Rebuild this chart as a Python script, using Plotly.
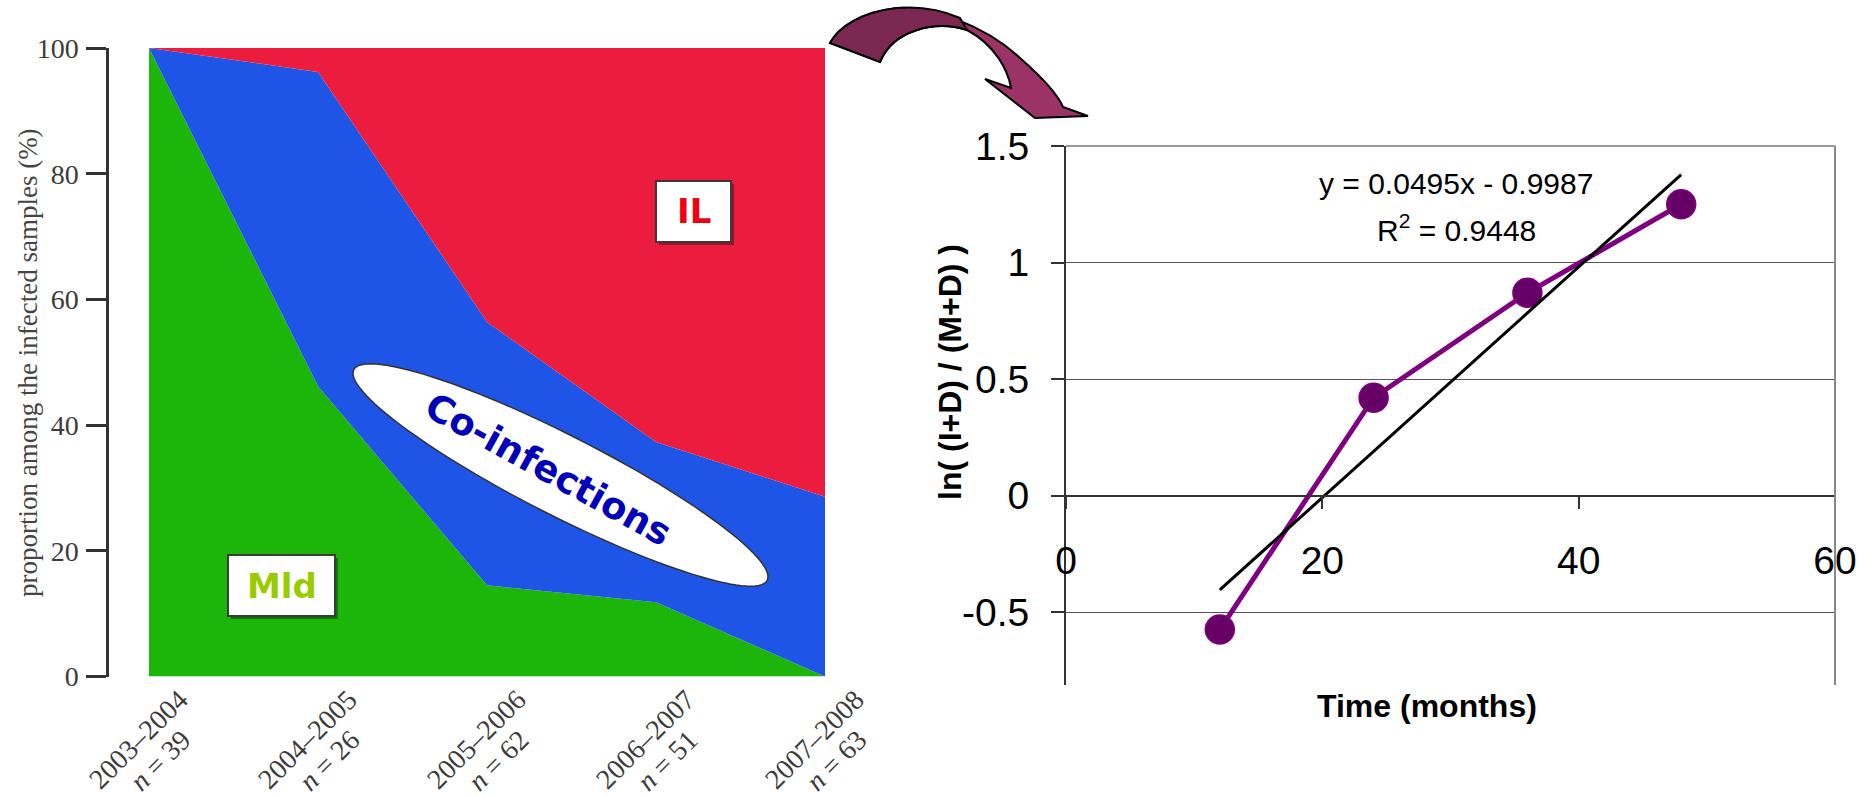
import numpy as np
import plotly.graph_objects as go

# ---------------- data ----------------
# Left panel: share of each infection status per sampling season (%)
seasons = ["2003–2004", "2004–2005", "2005–2006", "2006–2007", "2007–2008"]
sample_sizes = [39, 26, 62, 51, 63]
mld_pct = [100.0, 46.2, 14.5, 11.8, 0.0]
coinf_pct = [0.0, 50.0, 41.9, 25.5, 28.6]
il_pct = [0.0, 3.8, 43.5, 62.7, 71.4]

# Right panel: log ratio against time, with its linear fit
time_months = [12, 24, 36, 48]
log_ratio = [-0.575, 0.42, 0.87, 1.25]
fit_slope = 0.0495
fit_intercept = -0.9987
fit_r2 = 0.9448

y2_ticks = [-0.5, 0, 0.5, 1, 1.5]
y2_ticktext = ["-0.5", "0", "0.5", "1", "1.5"]
x2_ticks = [0, 20, 40, 60]

# ---------------- page geometry (pixels) ----------------
W, H = 1864, 796


def px(x):
    return x / W


def py(y):
    return 1 - y / H


SERIF = "Liberation Serif, Times New Roman, serif"
SANS = "Liberation Sans, Arial, sans-serif"
BOLD = "DejaVu Sans, Verdana, sans-serif"

fig = go.Figure()

# ---------------- left panel: stacked areas ----------------
for name, vals, col in [("Mld", mld_pct, "#1cb50a"),
                        ("Co-infections", coinf_pct, "#1f55e6"),
                        ("IL", il_pct, "#ec1c3e")]:
    fig.add_trace(go.Scatter(
        x=seasons, y=vals, name=name, mode="lines",
        stackgroup="status", line=dict(width=0, color=col),
        fillcolor=col, xaxis="x", yaxis="y", hoverinfo="skip"))

# ---------------- right panel: series and trend ----------------
fig.add_trace(go.Scatter(
    x=time_months, y=log_ratio, mode="lines+markers",
    line=dict(color="#800080", width=5),
    marker=dict(size=29, color="#660066", line=dict(color="#800080", width=1.5)),
    xaxis="x2", yaxis="y2", hoverinfo="skip"))

fit_x = np.array([time_months[0], time_months[-1]], dtype=float)
fig.add_trace(go.Scatter(
    x=fit_x, y=fit_slope * fit_x + fit_intercept, mode="lines",
    line=dict(color="black", width=3),
    xaxis="x2", yaxis="y2", hoverinfo="skip"))

# ---------------- axes ----------------
left_x0, left_cat0, left_x1 = 109, 149, 825
cat_step = (left_x1 - left_cat0) / (len(seasons) - 1)
left_pad = (left_cat0 - left_x0) / cat_step

y2_range = [-0.813, 1.5]
y2_dom = [py(685), py(146)]
x2_pos = y2_dom[0] + (0 - y2_range[0]) / (y2_range[1] - y2_range[0]) * (y2_dom[1] - y2_dom[0])

fig.update_layout(
    width=W, height=H, autosize=False,
    margin=dict(l=0, r=0, t=0, b=0, pad=0, autoexpand=False),
    paper_bgcolor="white", plot_bgcolor="white",
    showlegend=False,
    xaxis=dict(domain=[px(left_x0), px(left_x1)], type="category",
               range=[-left_pad, len(seasons) - 1], automargin=False,
               showline=False, showgrid=False, zeroline=False,
               showticklabels=False, ticks="", anchor="y"),
    yaxis=dict(domain=[py(676.5), py(48)], range=[0, 100], automargin=False,
               tickvals=[0, 20, 40, 60, 80, 100], ticks="outside",
               ticklen=20, tickwidth=2.5, tickcolor="#333",
               showline=True, linecolor="#333", linewidth=2.5,
               showgrid=False, zeroline=False, anchor="x",
               ticklabelstandoff=2,
               tickfont=dict(family=SERIF, size=28, color="#3c3c3c")),
    xaxis2=dict(domain=[px(1066), px(1835)], range=[0, 60], automargin=False,
                tickvals=x2_ticks, ticks="outside", ticklen=13,
                tickcolor="#333", tickwidth=1.5,
                showline=True, linecolor="#333", linewidth=1.5,
                showgrid=False, zeroline=False,
                anchor="free", position=x2_pos,
                ticklabelstandoff=18,
                tickfont=dict(family=SANS, size=39, color="black")),
    yaxis2=dict(domain=y2_dom, range=y2_range, automargin=False,
                tickvals=y2_ticks, ticktext=y2_ticktext,
                ticks="outside", ticklen=13, tickcolor="#333", tickwidth=1.5,
                showline=True, linecolor="#333", linewidth=2,
                showgrid=True, gridcolor="#555", gridwidth=1,
                zeroline=False, anchor="x2",
                ticklabelstandoff=14,
                tickfont=dict(family=SANS, size=39, color="black")),
)

shapes = []

# plot-area border of the right panel (top and right edges)
shapes.append(dict(type="line", xref="x2 domain", yref="y2 domain",
                   x0=0, x1=1, y0=1, y1=1, line=dict(color="#999", width=2)))
shapes.append(dict(type="line", xref="x2 domain", yref="y2 domain",
                   x0=1, x1=1, y0=0, y1=1, line=dict(color="#888", width=2)))

# label boxes in the left panel (soft shadow, then the box)
for (x0, y0, x1, y1) in [(656, 181, 731, 242), (228, 555, 335, 616)]:
    shapes.append(dict(type="rect", xref="paper", yref="paper",
                       x0=px(x0 + 3), x1=px(x1 + 3), y0=py(y1 + 3), y1=py(y0 + 3),
                       fillcolor="rgba(0,0,0,0.35)", line=dict(width=0)))
    shapes.append(dict(type="rect", xref="paper", yref="paper",
                       x0=px(x0), x1=px(x1), y0=py(y1), y1=py(y0),
                       fillcolor="white", line=dict(color="#3a3a3a", width=2)))

# tilted ellipse behind the co-infection label
cx, cy, ea, eb, th = 560.5, 475, 232, 40, np.deg2rad(27)
t = np.linspace(0, 2 * np.pi, 120)
ex = cx + ea * np.cos(t) * np.cos(th) - eb * np.sin(t) * np.sin(th)
ey = cy + ea * np.cos(t) * np.sin(th) + eb * np.sin(t) * np.cos(th)
ell = "M " + " L ".join(f"{px(a):.5f},{py(b):.5f}" for a, b in zip(ex, ey)) + " Z"
shapes.append(dict(type="path", xref="paper", yref="paper", path=ell,
                   fillcolor="white", line=dict(color="#333", width=1.5)))


def pth(cmds):
    out = []
    for c in cmds:
        if isinstance(c, str):
            out.append(c)
        else:
            out.append(f"{px(c[0]):.5f},{py(c[1]):.5f}")
    return " ".join(out)


# curved arrow linking the two panels
arrow = pth(["M", (830, 43),
             "C", (838, 28), (860, 12), (897, 8),
             "C", (930, 6), (985, 25), (1020, 58),
             "C", (1045, 80), (1058, 95), (1063, 107),
             "L", (1088, 116), "L", (1035, 118), "L", (985, 79), "L", (1011, 88),
             "C", (1008, 70), (995, 45), (967, 30),
             "C", (935, 20), (893, 30), (880, 62), "Z"])
shapes.append(dict(type="path", xref="paper", yref="paper", path=arrow,
                   fillcolor="#9b3366", line=dict(color="black", width=2)))
arrow_tail = pth(["M", (830, 43),
                  "C", (838, 28), (860, 12), (897, 8),
                  "C", (920, 6), (942, 10), (960, 18),
                  "L", (967, 30),
                  "C", (935, 20), (893, 30), (880, 62), "Z"])
shapes.append(dict(type="path", xref="paper", yref="paper", path=arrow_tail,
                   fillcolor="#7a2852", line=dict(color="black", width=2)))

fig.update_layout(shapes=shapes)

# ---------------- text ----------------
ann = []


def txt(x, y, s, size, family, color="black", angle=0, **kw):
    ann.append(dict(x=px(x), y=py(y), xref="paper", yref="paper", text=s,
                    showarrow=False, textangle=angle,
                    font=dict(family=family, size=size, color=color),
                    xanchor="center", yanchor="middle", **kw))


# season labels with sample sizes, two slanted lines under each season
for s, n in zip(seasons, sample_sizes):
    for line, dx, yc in [(s, -11, 739), (f"<i>n</i> = {n}", 11, 760)]:
        ann.append(dict(x=s, y=py(yc), xref="x", yref="paper", xshift=dx,
                        text=line, showarrow=False, textangle=-45,
                        font=dict(family=SERIF, size=28, color="#3c3c3c"),
                        xanchor="center", yanchor="middle"))

txt(28, 363, "proportion among the infected samples (%)", 27, SERIF, "#444", -90)
txt(693.5, 211.5, "<b>IL</b>", 34, BOLD, "#f00010")
txt(281.5, 585.5, "<b>Mld</b>", 34, BOLD, "#99cc00")
txt(548, 470, "<b>Co-infections</b>", 37, BOLD, "#0000bb", 29)

txt(1456, 183, f"y = {fit_slope}x - {abs(fit_intercept)}", 30, SANS)
txt(1456, 228, f"R<sup>2</sup> = {fit_r2}", 30, SANS)
txt(950, 372, "<b>ln( (I+D) / (M+D) )</b>", 32, SANS, "black", -90)
txt(1427, 706, "<b>Time (months)</b>", 32, SANS)

fig.update_layout(annotations=ann)

fig.write_html("out.html")
